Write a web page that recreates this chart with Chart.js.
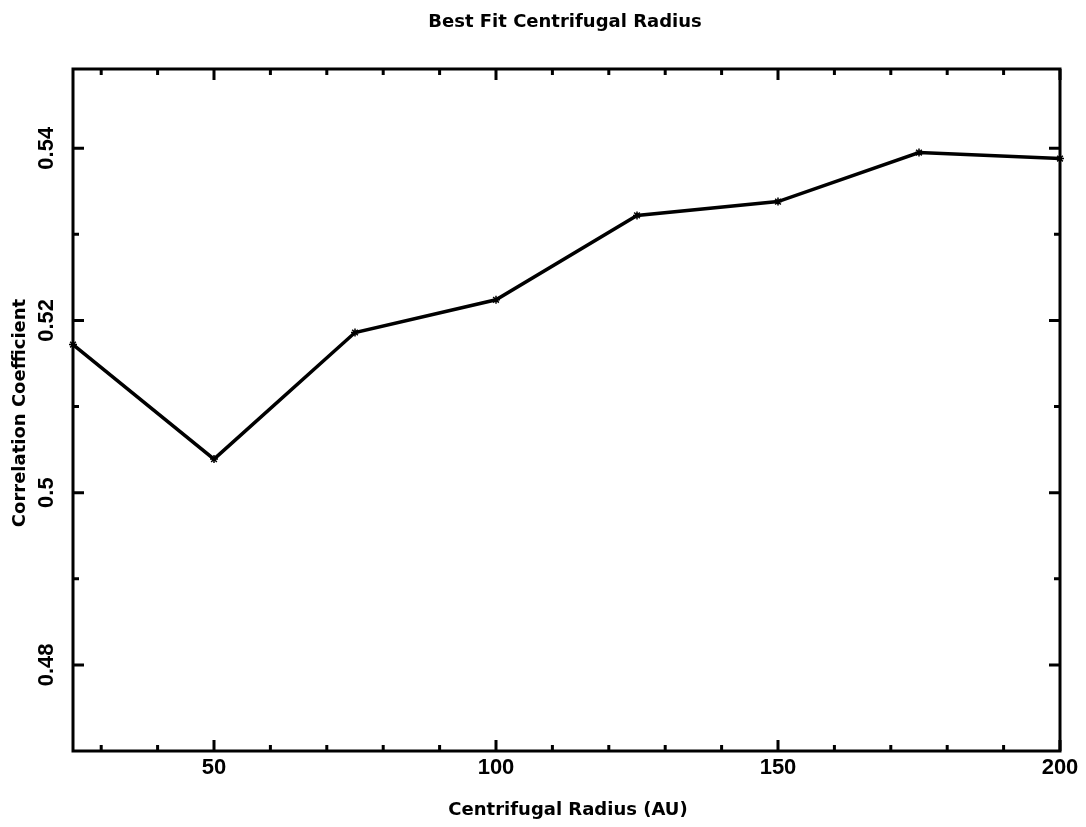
<!DOCTYPE html>
<html>
<head>
<meta charset="utf-8">
<script src="https://cdn.jsdelivr.net/npm/chart.js@4/dist/chart.umd.min.js"></script>
<style>
  html,body{margin:0;padding:0;background:#fff;}
  #wrap{width:1086px;height:827px;position:relative;}
</style>
</head>
<body>
<div id="wrap"><canvas id="c" width="1086" height="827"></canvas></div>
<script>
const radii = [25, 50, 75, 100, 125, 150, 175, 200];
const correlation = [0.5172, 0.5039, 0.5186, 0.5224, 0.5322, 0.5338, 0.5395, 0.5388];
const xTickLabels = [50, 100, 150, 200];
const xMinorTicks = [30, 40, 60, 70, 80, 90, 110, 120, 130, 140, 160, 170, 180, 190];
const yTickLabels = [0.48, 0.5, 0.52, 0.54];
const yMinorTicks = [0.49, 0.51, 0.53];
const titleText = 'Best Fit Centrifugal Radius';
const xTitle = 'Centrifugal Radius (AU)';
const yTitle = 'Correlation Coefficient';

const NUMFONT = '"Liberation Sans", Arial, sans-serif';
const TXTFONT = '"DejaVu Sans", sans-serif';

const framePlugin = {
  id: 'frame',
  afterDraw(chart) {
    const ctx = chart.ctx;
    const a = chart.chartArea;
    const xs = chart.scales.x, ys = chart.scales.y;
    ctx.save();
    ctx.strokeStyle = '#000';
    ctx.lineWidth = 3;
    ctx.strokeRect(a.left, a.top, a.right - a.left, a.bottom - a.top);
    function vtick(v, len) {
      const x = xs.getPixelForValue(v);
      ctx.beginPath();
      ctx.moveTo(x, a.bottom); ctx.lineTo(x, a.bottom - len);
      ctx.moveTo(x, a.top); ctx.lineTo(x, a.top + len);
      ctx.stroke();
    }
    function htick(v, len) {
      const y = ys.getPixelForValue(v);
      ctx.beginPath();
      ctx.moveTo(a.left, y); ctx.lineTo(a.left + len, y);
      ctx.moveTo(a.right, y); ctx.lineTo(a.right - len, y);
      ctx.stroke();
    }
    xTickLabels.forEach(v => vtick(v, 11));
    xMinorTicks.forEach(v => vtick(v, 6));
    yTickLabels.forEach(v => htick(v, 11));
    yMinorTicks.forEach(v => htick(v, 6));

    ctx.fillStyle = '#000';
    ctx.font = 'bold 22px ' + NUMFONT;
    ctx.textAlign = 'center';
    ctx.textBaseline = 'middle';
    xTickLabels.forEach(v => {
      ctx.fillText(String(v), xs.getPixelForValue(v), 768);
    });
    yTickLabels.forEach(v => {
      const y = ys.getPixelForValue(v);
      ctx.save();
      ctx.translate(47, y);
      ctx.rotate(-Math.PI / 2);
      ctx.fillText(String(v), 0, 0);
      ctx.restore();
    });

    ctx.font = 'bold 18px ' + TXTFONT;
    ctx.fillText(titleText, 565, 22);
    ctx.fillText(xTitle, 568, 810);
    ctx.save();
    ctx.translate(20, 413);
    ctx.rotate(-Math.PI / 2);
    ctx.fillText(yTitle, 0, 0);
    ctx.restore();
    ctx.restore();
  }
};

new Chart(document.getElementById('c'), {
  type: 'line',
  data: {
    datasets: [{
      data: radii.map((r, i) => ({x: r, y: correlation[i]})),
      borderColor: '#000',
      borderWidth: 3.5,
      pointStyle: 'star',
      pointRadius: 4,
      pointBorderWidth: 1.5,
      pointBorderColor: '#000',
      pointBackgroundColor: '#000',
      tension: 0,
      clip: 4
    }]
  },
  options: {
    responsive: false,
    animation: false,
    layout: { padding: { left: 73, right: 26, top: 69, bottom: 76 } },
    plugins: { legend: { display: false }, tooltip: { enabled: false }, title: { display: false } },
    scales: {
      x: { type: 'linear', min: 25, max: 200, display: false },
      y: { type: 'linear', min: 0.47, max: 0.5492, display: false }
    }
  },
  plugins: [framePlugin]
});
</script>
</body>
</html>
